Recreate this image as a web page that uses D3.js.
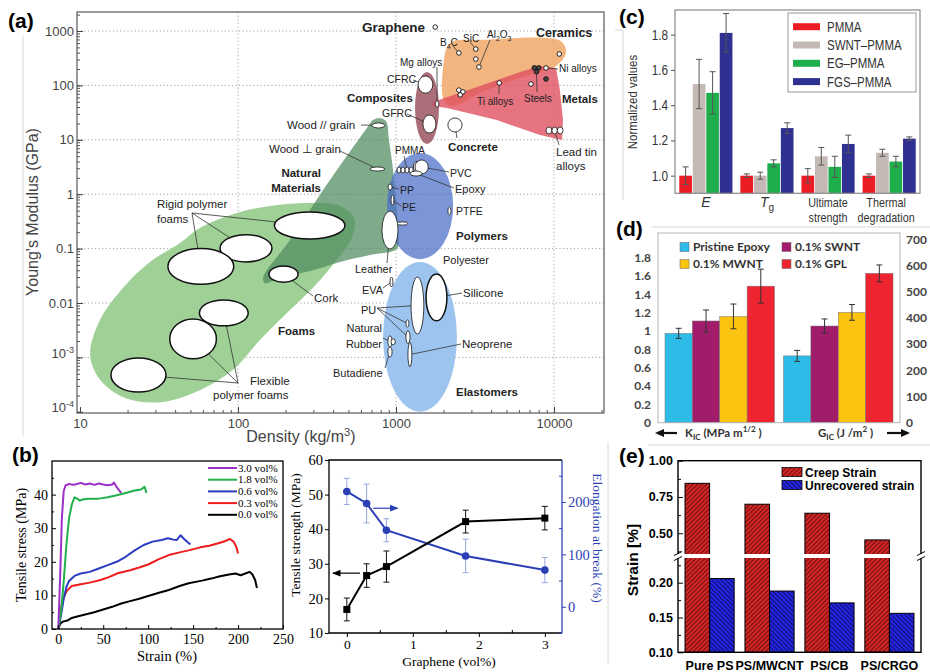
<!DOCTYPE html>
<html>
<head>
<meta charset="utf-8">
<script src="https://cdn.jsdelivr.net/npm/d3@7"></script>
<style>
	body { margin: 0; background: #fff; }
</style>
</head>
<body>
<div id="chart"></div>
<script>
// ---------------- (a) Ashby map, values in [density kg/m3, modulus GPa] ----------------
const foamsEnvelope = [[13.4, 0.0049], [19.3, 0.021], [27.7, 0.057], [42.9, 0.127], [57.4, 0.24], [92.8, 0.43], [160, 0.61], [286, 0.69], [442, 0.61], [542, 0.37], [527, 0.16], [411, 0.057], [298, 0.019], [198, 0.006], [138, 0.0021], [92.8, 0.00059], [57.4, 0.00025], [32.1, 0.00015], [19.3, 0.00018], [13.4, 0.00039], [11.6, 0.0011]];
const naturalEnvelope = [[715, 23], [792, 25], [865, 22], [903, 9.9], [958, 2.8], [1000, 0.78], [1030, 0.22], [1015, 0.1], [684, 0.076], [442, 0.057], [298, 0.04], [185, 0.029], [148, 0.023], [144, 0.029], [213, 0.144], [382, 1.82], [655, 16.5]];
const ceramicsEnvelope = [[2200, 600], [3400, 684], [9040, 743], [11250, 628], [11900, 394], [10300, 228], [6100, 137], [3400, 72.5], [2260, 41.8], [2010, 54], [1980, 192]];
const metalsEnvelope = [[1710, 49.6], [3400, 97.5], [6100, 176], [8150, 228], [10300, 209], [10900, 82], [11400, 23], [11250, 9.9], [8150, 12.2], [4350, 23], [2100, 38.5], [1710, 41.8]];
// family ranges [density lo, density hi, modulus lo, modulus hi]
const polymersRange = [877, 2300, 0.064, 5.7];
const elastomersRange = [828, 2430, 0.0001, 0.057];
const compositesRange = [1320, 1870, 8.4, 176];
// material bubbles [name, density lo, density hi, modulus lo, modulus hi]
const materialBubbles = [
	["Rigid foam 1", 170, 475, 0.15, 0.47], ["Rigid foam 2", 77, 164, 0.057, 0.18], ["Rigid foam 3", 36, 94, 0.022, 0.1],
	["Cork", 157, 240, 0.024, 0.048], ["Flexible foam 1", 57, 116, 0.0038, 0.0114], ["Flexible foam 2", 37, 73, 0.00094, 0.0051],
	["Flexible foam 3", 15.7, 35, 0.00023, 0.00098], ["Wood // grain", 705, 850, 16.5, 20.4], ["Wood ⊥ grain", 684, 850, 2.67, 3.16],
	["Leather", 815, 1030, 0.098, 0.49], ["PMMA 1", 1015, 1075, 2.45, 3.16], ["PMMA 2", 1075, 1140, 2.45, 3.16],
	["PMMA 3", 1140, 1210, 2.45, 3.16], ["PMMA 4", 1210, 1285, 2.45, 3.16], ["PVC 2", 1290, 1420, 2.5, 4.0],
	["PVC", 1320, 1600, 2.35, 4.26], ["Epoxy", 1230, 1460, 2.16, 2.67], ["PP", 890, 945, 1.19, 1.54], ["PE", 930, 970, 0.63, 0.97],
	["PTFE", 2130, 2230, 0.415, 0.58], ["Polyester", 1015, 1190, 0.27, 0.31], ["EVA", 916, 957, 0.0197, 0.03],
	["PU", 1245, 1500, 0.0027, 0.03], ["Silicone", 1550, 2100, 0.0047, 0.034], ["PU 2", 1156, 1208, 0.0036, 0.0049],
	["PU 3", 1156, 1227, 0.0018, 0.0031], ["Neoprene", 1190, 1260, 0.00067, 0.0019], ["Natural rubber", 889, 944, 0.00155, 0.0025],
	["Natural rubber 2", 930, 990, 0.0017, 0.0022], ["Butadiene", 889, 944, 0.00102, 0.00155], ["CFRC", 1380, 1710, 72, 149],
	["GFRC", 1480, 1790, 13.3, 28.6], ["Mg alloys", 1770, 1870, 40, 52], ["Concrete", 2130, 2620, 13.9, 25.2],
	["Lead tin 1", 8900, 9700, 12.8, 17.2], ["Lead tin 2", 9700, 10500, 12.8, 17.2], ["Lead tin 3", 10500, 11400, 12.8, 17.2]
];
// single materials [name, density, modulus]
const materialPoints = [
	["Graphene", 1770, 1180], ["B4C", 2500, 395], ["SiC", 3200, 465], ["SiC 2", 3200, 305], ["Al2O3", 3350, 218],
	["Ceramic 1", 10800, 378], ["Ni alloys", 8900, 209], ["Steels 1", 7500, 210], ["Steels 2", 8000, 210], ["Steels 3", 7750, 178],
	["Metal 1", 8900, 131], ["Metal 2", 7150, 106], ["Ti alloys", 4500, 111], ["Al 1", 2500, 82], ["Al 2", 2650, 76], ["Al 3", 2550, 67]
];

// ---------------- (b) stress-strain curves [strain %, stress MPa] ----------------
const curveNames = ["3.0 vol%", "1.8 vol%", "0.6 vol%", "0.3 vol%", "0.0 vol%"];
const curve30 = [[0, 0], [2, 15], [4, 33], [6, 41], [8, 42.7], [12, 43.2], [16, 42.9], [20, 43.1], [25, 43.5], [30, 43], [35, 43.3], [40, 42.9], [45, 43.3], [50, 43], [55, 42.8], [60, 43], [62, 43.6], [65, 42.2], [68, 41.2], [70, 40.5]];
const curve18 = [[0, 0], [3, 5], [6, 14], [9, 25], [12, 33], [15, 37], [18, 39.2], [21, 38.8], [24, 38.2], [28, 38.6], [35, 38.8], [45, 38.8], [55, 39.2], [65, 39.8], [75, 40.5], [85, 41.2], [92, 41.5], [96, 42.3], [97, 41.5], [98, 40.5]];
const curve06 = [[0, 0], [3, 4], [6, 9], [9, 12.5], [12, 14.3], [18, 15.8], [25, 16.5], [35, 17], [45, 18], [55, 19], [65, 20], [75, 21.5], [85, 23.4], [95, 25], [105, 26], [115, 26.5], [122, 27], [128, 26.6], [132, 26.5], [136, 27.9], [140, 26.8], [144, 25.8], [147, 25.2]];
const curve03 = [[0, 0], [2, 4], [4, 7.5], [7, 10], [10, 11.5], [15, 12.8], [25, 13.3], [35, 13.8], [47, 14.6], [57, 15.5], [66, 16.6], [80, 17.5], [90, 18.3], [100, 19.2], [112, 20.8], [123, 22], [135, 22.8], [145, 23.4], [158, 24.3], [168, 24.8], [178, 25.5], [186, 26.2], [191, 26.8], [195, 26], [198, 24.5], [200, 22.5]];
const curve00 = [[0, 0], [2, 1.5], [5, 2.2], [10, 2.5], [15, 3.3], [21, 3.7], [30, 4.3], [40, 5], [50, 5.8], [60, 6.6], [70, 7.6], [80, 8.3], [90, 9], [100, 9.8], [112, 10.8], [123, 11.6], [135, 12.8], [145, 13.6], [160, 14.4], [170, 15], [180, 15.7], [190, 16.2], [197, 16.5], [203, 16], [208, 16.5], [213, 17], [216, 16.2], [219, 14.6], [221, 12.2]];
const grapheneVol = [0, 0.3, 0.6, 1.8, 3];
const strengthMPa = [16.8, 26.6, 29.2, 42.2, 43.2];
const strengthErr = [3.3, 3.4, 4.5, 3.3, 3.4];
const elongationPct = [220, 197, 146, 97, 70];
const elongationErr = [25, 37, 22, 32, 24];

// ---------------- (c) normalized properties ----------------
const propertyGroups = ["E", "Tg", "Ultimate strength", "Thermal degradation"];
const pmmaSeries = ["PMMA", "SWNT–PMMA", "EG–PMMA", "FGS–PMMA"];
const normalizedValues = [[1.0, 1.52, 1.47, 1.81], [1.0, 1.0, 1.07, 1.27], [1.0, 1.11, 1.05, 1.18], [1.0, 1.13, 1.08, 1.21]];
const normalizedErr = [[0.05, 0.14, 0.12, 0.11], [0.01, 0.02, 0.02, 0.03], [0.04, 0.05, 0.06, 0.05], [0.01, 0.02, 0.03, 0.01]];

// ---------------- (d) fracture toughness ----------------
const toughnessGroups = ["KIC", "GIC"];
const fillerSeries = ["Pristine Epoxy", "0.1% SWNT", "0.1% MWNT", "0.1% GPL"];
const kicValues = [0.975, 1.11, 1.16, 1.49];
const kicErr = [0.055, 0.12, 0.135, 0.185];
const gicValues = [255, 369, 421, 570];
const gicErr = [21, 27, 30, 32];

// ---------------- (e) creep ----------------
const creepSamples = ["Pure PS", "PS/MWCNT", "PS/CB", "PS/CRGO"];
const creepStrain = [0.844, 0.7, 0.638, 0.454];
const unrecoveredStrain = [0.206, 0.188, 0.171, 0.156];

// ============================================================
const svg = d3.select("#chart").append("svg").attr("width", 930).attr("height", 672)
	.style("font-family", "'Liberation Sans', Arial, sans-serif");
svg.append("rect").attr("width", 930).attr("height", 672).attr("fill", "#fff");
const defs = svg.append("defs");

// text with [_sub] and [^sup] parts
function rich(text, str, size) {
	let shift = 0;
	str.split(/(\[[_^][^\]]*\])/).filter(s => s).forEach(s => {
		let target = 0, content = s, small = false;
		if (s[0] === "[") {
			target = s[1] === "_" ? size * 0.3 : -size * 0.4;
			content = s.slice(2, -1);
			small = true;
		}
		const t = text.append("tspan").attr("dy", target - shift).text(content);
		if (small) t.attr("font-size", size * 0.7);
		shift = target;
	});
}

// squeeze a text horizontally (condensed look)
function condense(sel, k) {
	sel.each(function () {
		const w = this.getComputedTextLength();
		d3.select(this).attr("textLength", w * k).attr("lengthAdjust", "spacingAndGlyphs");
	});
}

function panelLetter(txt, x, y) {
	svg.append("text").attr("x", x).attr("y", y).attr("font-size", 21).attr("font-weight", "bold")
		.attr("font-family", "'Liberation Sans', Arial, sans-serif").text(txt);
}

// faint borders of the source figure
svg.append("path").attr("d", "M23,36V436M608,442V664M615,30H623V200M652,227H930M648,445H930")
	.attr("stroke", "#d8d8d8").attr("fill", "none");

// ---------------- panel (a) ----------------
function panelA() {
	const frame = { left: 77, right: 604, top: 12, bottom: 413 };
	const x = d3.scaleLog().domain([10, 10000]).range([80, 554]);
	const y = d3.scaleLog().domain([1e-4, 1000]).range([411.8, 31]);
	const g = svg.append("g");

	// dotted decade grid
	g.selectAll(null).data([100, 1000, 10000]).join("line")
		.attr("x1", d => x(d)).attr("x2", d => x(d)).attr("y1", frame.top).attr("y2", frame.bottom)
		.attr("stroke", "#9a9a9a").attr("stroke-width", 0.9).attr("stroke-dasharray", "1.2,2.4");
	g.selectAll(null).data([1e-3, 0.01, 0.1, 1, 10, 100, 1000]).join("line")
		.attr("x1", frame.left).attr("x2", frame.right).attr("y1", d => y(d)).attr("y2", d => y(d))
		.attr("stroke", "#9a9a9a").attr("stroke-width", 0.9).attr("stroke-dasharray", "1.2,2.4");

	// property envelopes
	const smooth = d3.line().x(d => x(d[0])).y(d => y(d[1])).curve(d3.curveCatmullRomClosed.alpha(0.5));
	const sharp = d3.line().x(d => x(d[0])).y(d => y(d[1])).curve(d3.curveLinearClosed);
	const rangeEllipse = function (r, fill, opacity) {
		const x0 = x(r[0]), x1 = x(r[1]), y0 = y(r[3]), y1 = y(r[2]);
		g.append("ellipse").attr("cx", (x0 + x1) / 2).attr("cy", (y0 + y1) / 2)
			.attr("rx", (x1 - x0) / 2).attr("ry", (y1 - y0) / 2).attr("fill", fill).attr("fill-opacity", opacity);
	};
	g.append("path").attr("d", smooth(foamsEnvelope)).attr("fill", "#9fd197");
	g.append("path").attr("d", smooth(naturalEnvelope)).attr("fill", "#4e8a5e").attr("fill-opacity", 0.72);
	rangeEllipse(compositesRange, "#954a56", 0.8);
	g.append("path").attr("d", smooth(ceramicsEnvelope)).attr("fill", "#f0a868").attr("fill-opacity", 0.85);
	g.append("path").attr("d", sharp(metalsEnvelope)).attr("fill", "#e05060").attr("fill-opacity", 0.8);
	rangeEllipse(polymersRange, "#4a6cc8", 0.72);
	rangeEllipse(elastomersRange, "#9cc4ee", 1);

	// centres of bubbles and points
	const centre = {};
	materialBubbles.forEach(b => (centre[b[0]] = [Math.sqrt(b[1] * b[2]), Math.sqrt(b[3] * b[4])]));
	materialPoints.forEach(p => (centre[p[0]] = [p[1], p[2]]));

	// leader lines: [label end x, label end y, target]
	const leaders = [[453, 46, "B4C"], [470, 42, "SiC"], [490, 40, "Al2O3"], [437, 67, "Mg alloys"], [413, 80, "CFRC"],
		[407, 114, "GFRC"], [558, 69, "Ni alloys"], [537, 92, "Steels 3"], [499, 94, "Ti alloys"], [559, 145, "Lead tin 2"],
		[361, 125, "Wood // grain"], [340, 151, "Wood ⊥ grain"], [404, 156, "PMMA 3"], [449, 172, "PVC"], [454, 188, "Epoxy"],
		[399, 189, "PP"], [401, 206, "PE"], [387, 263, "Leather"], [383, 288, "EVA"], [313, 296, "Cork"], [462, 293, "Silicone"],
		[377, 308, "PU"], [377, 308, "PU 2"], [377, 308, "PU 3"], [383, 338, "Natural rubber"], [461, 344, "Neoprene"],
		[385, 368, "Butadiene"], [192, 213, "Rigid foam 1"], [192, 213, "Rigid foam 2"], [192, 213, "Rigid foam 3"],
		[238, 383, "Flexible foam 1"], [238, 383, "Flexible foam 2"], [238, 383, "Flexible foam 3"], [457, 138, "Concrete"]];
	g.selectAll(null).data(leaders).join("line")
		.attr("x1", d => d[0]).attr("y1", d => d[1])
		.attr("x2", d => x(centre[d[2]][0])).attr("y2", d => y(centre[d[2]][1]))
		.attr("stroke", "#333").attr("stroke-width", 0.8);

	g.selectAll(null).data(materialBubbles).join("ellipse")
		.attr("cx", d => (x(d[1]) + x(d[2])) / 2).attr("cy", d => (y(d[3]) + y(d[4])) / 2)
		.attr("rx", d => (x(d[2]) - x(d[1])) / 2).attr("ry", d => (y(d[3]) - y(d[4])) / 2)
		.attr("fill", "#fff").attr("stroke", "#111")
		.attr("stroke-width", d => (x(d[2]) - x(d[1]) > 20 ? 1.5 : 0.8));
	g.selectAll(null).data(materialPoints).join("circle")
		.attr("cx", d => x(d[1])).attr("cy", d => y(d[2])).attr("r", 2.3)
		.attr("fill", d => (d[0].startsWith("Steels") || d[0] === "Metal 1" ? "#444" : "#fff"))
		.attr("stroke", "#111").attr("stroke-width", 0.9);

	// labels [text, x, y, anchor, bold, size]
	const labels = [
		["Graphene", 362, 32, "start", 1, 13.5], ["Ceramics", 536, 37, "start", 1, 12.5], ["Metals", 562, 103, "start", 1, 11.5],
		["Composites", 347, 102, "start", 1, 11.5], ["Concrete", 448, 151, "start", 1, 11.5], ["Natural", 321, 177, "end", 1, 11.5],
		["Materials", 321, 192, "end", 1, 11.5], ["Polymers", 456, 240, "start", 1, 11.5], ["Foams", 278, 335, "start", 1, 11.5],
		["Elastomers", 456, 396, "start", 1, 11.5],
		["B[_4]C", 440, 46, "start", 0, 10], ["SiC", 463, 42, "start", 0, 10], ["Al[_2]O[_3]", 487, 38, "start", 0, 10],
		["Mg alloys", 400, 66, "start", 0, 10], ["CFRC", 387, 83, "start", 0, 10.5], ["GFRC", 382, 117, "start", 0, 10.5],
		["Ni alloys", 559, 72, "start", 0, 10], ["Steels", 524, 102, "start", 0, 10], ["Ti alloys", 477, 105, "start", 0, 10],
		["Lead tin", 556, 156, "start", 0, 11.5], ["alloys", 556, 170, "start", 0, 11.5], ["Wood // grain", 287, 129, "start", 0, 11.5],
		["Wood ⊥ grain", 269, 153, "start", 0, 11.5], ["PMMA", 395, 154, "start", 0, 10], ["PVC", 450, 177, "start", 0, 10.5],
		["Epoxy", 455, 193, "start", 0, 11], ["PP", 400, 194, "start", 0, 10.5], ["PE", 402, 211, "start", 0, 10.5],
		["PTFE", 456, 215, "start", 0, 10.5], ["Leather", 355, 273, "start", 0, 11], ["Polyester", 443, 264, "start", 0, 11],
		["EVA", 362, 294, "start", 0, 11], ["Cork", 314, 302, "start", 0, 11.5], ["Silicone", 463, 297, "start", 0, 11.5],
		["PU", 361, 314, "start", 0, 11], ["Natural", 382, 332, "end", 0, 11], ["Rubber", 382, 348, "end", 0, 11],
		["Neoprene", 462, 348, "start", 0, 11.5], ["Butadiene", 333, 377, "start", 0, 11],
		["Rigid polymer", 157, 208, "start", 0, 11.5], ["foams", 157, 223, "start", 0, 11.5],
		["Flexible", 250, 385, "start", 0, 11.5], ["polymer foams", 213, 399, "start", 0, 11.5]
	];
	labels.forEach(l => {
		const t = g.append("text").attr("x", l[1]).attr("y", l[2]).attr("text-anchor", l[3])
			.attr("font-size", l[5]).attr("font-weight", l[4] ? "bold" : "normal").attr("fill", "#222");
		rich(t, l[0], l[5]);
	});

	// frame and inward ticks
	g.append("rect").attr("x", frame.left).attr("y", frame.top).attr("width", frame.right - frame.left)
		.attr("height", frame.bottom - frame.top).attr("fill", "none").attr("stroke", "#666").attr("stroke-width", 1.3);
	const xFull = x.copy().domain([x.invert(frame.left), x.invert(frame.right)]).range([frame.left, frame.right]);
	const yFull = y.copy().domain([y.invert(frame.bottom), y.invert(frame.top)]).range([frame.bottom, frame.top]);
	g.append("g").attr("transform", `translate(0,${frame.bottom})`).attr("color", "#555")
		.call(d3.axisBottom(x).tickValues(xFull.ticks()).tickSize(-3).tickFormat(""))
		.call(a => a.select(".domain").remove());
	g.append("g").attr("transform", `translate(0,${frame.bottom})`).attr("color", "#444")
		.call(d3.axisBottom(x).tickValues([10, 100, 1000, 10000]).tickSize(-6).tickPadding(6).tickFormat(d3.format("d")))
		.call(a => a.select(".domain").remove())
		.call(a => a.selectAll("text").attr("font-size", 13).attr("font-family", "'Liberation Sans', Arial, sans-serif"));
	g.append("g").attr("transform", `translate(${frame.left},0)`).attr("color", "#555")
		.call(d3.axisLeft(y).tickValues(yFull.ticks()).tickSize(-3).tickFormat(""))
		.call(a => a.select(".domain").remove());
	g.append("g").attr("transform", `translate(${frame.left},0)`).attr("color", "#444")
		.call(d3.axisLeft(y).tickValues([1e-4, 1e-3, 0.01, 0.1, 1, 10, 100, 1000]).tickSize(-6).tickPadding(3)
			.tickFormat(d => (d >= 0.01 ? d3.format("~g")(d) : "")))
		.call(a => a.select(".domain").remove())
		.call(a => a.selectAll("text").attr("font-size", 13).attr("font-family", "'Liberation Sans', Arial, sans-serif")
			.filter(d => d < 0.01).each(function (d) { rich(d3.select(this), "10[^" + Math.round(Math.log10(d)) + "]", 13); }));

	g.append("text").attr("transform", "translate(38,212) rotate(-90)").attr("text-anchor", "middle")
		.attr("font-size", 16).attr("fill", "#444").text("Young's Modulus (GPa)");
	const dt = g.append("text").attr("x", 301).attr("y", 442).attr("text-anchor", "middle").attr("font-size", 16).attr("fill", "#444");
	rich(dt, "Density (kg/m[^3])", 16);
	panelLetter("(a)", 8, 28);
}

// ---------------- panel (b) left ----------------
function panelB1() {
	const serif = "'Liberation Serif', 'Times New Roman', serif";
	const x = d3.scaleLinear().domain([-7, 250]).range([52, 283]);
	const y = d3.scaleLinear().domain([0, 50]).range([629, 461]);
	const g = svg.append("g").attr("font-family", serif);
	const colors = ["#9b30c8", "#22b04a", "#2a3cc0", "#ee1c1c", "#000"];
	const curves = [curve30, curve18, curve06, curve03, curve00];
	const line = d3.line().x(d => x(d[0])).y(d => y(d[1]));
	curves.slice().reverse().forEach((c, i) => {
		g.append("path").datum(c).attr("d", line).attr("fill", "none")
			.attr("stroke", colors[4 - i]).attr("stroke-width", 2).attr("stroke-linejoin", "round");
	});
	g.append("rect").attr("x", 52).attr("y", 461).attr("width", 231).attr("height", 168)
		.attr("fill", "none").attr("stroke", "#000").attr("stroke-width", 1.3);
	g.append("g").attr("transform", "translate(0,629)")
		.call(d3.axisBottom(x).tickValues([0, 50, 100, 150, 200, 250]).tickSize(-4).tickPadding(5))
		.call(a => a.select(".domain").remove())
		.call(a => a.selectAll("text").attr("font-size", 14).attr("font-family", serif));
	g.append("g").attr("transform", "translate(0,629)")
		.call(d3.axisBottom(x).tickValues([25, 75, 125, 175, 225]).tickSize(-2).tickFormat(""))
		.call(a => a.select(".domain").remove());
	g.append("g").attr("transform", "translate(52,0)")
		.call(d3.axisLeft(y).tickValues([0, 10, 20, 30, 40]).tickSize(-4).tickPadding(4))
		.call(a => a.select(".domain").remove())
		.call(a => a.selectAll("text").attr("font-size", 14).attr("font-family", serif));
	g.append("g").attr("transform", "translate(52,0)")
		.call(d3.axisLeft(y).tickValues([5, 15, 25, 35, 45]).tickSize(-2).tickFormat(""))
		.call(a => a.select(".domain").remove());
	// legend
	curveNames.forEach((n, i) => {
		const ly = 468 + i * 11.7;
		g.append("line").attr("x1", 208).attr("x2", 237).attr("y1", ly).attr("y2", ly).attr("stroke", colors[i]).attr("stroke-width", 2);
		g.append("text").attr("x", 238).attr("y", ly + 3.5).attr("font-size", 11).text(n);
	});
	g.append("text").attr("transform", "translate(26,545) rotate(-90)").attr("text-anchor", "middle").attr("font-size", 14).text("Tensile stress (MPa)");
	g.append("text").attr("x", 167).attr("y", 661).attr("text-anchor", "middle").attr("font-size", 14.5).text("Strain (%)");
	panelLetter("(b)", 12, 462);
}

// ---------------- panel (b) right ----------------
function panelB2() {
	const serif = "'Liberation Serif', 'Times New Roman', serif";
	const blue = "#2b3fb5";
	const x = d3.scaleLinear().domain([-0.27, 3.26]).range([329, 562]);
	const yL = d3.scaleLinear().domain([10, 60]).range([633, 460]);
	const yR = d3.scaleLinear().domain([-50, 280]).range([633, 460]);
	const g = svg.append("g").attr("font-family", serif);

	defs.append("marker").attr("id", "arrowK").attr("viewBox", "0 0 10 10").attr("refX", 9).attr("refY", 5)
		.attr("markerWidth", 7).attr("markerHeight", 7).attr("orient", "auto")
		.append("path").attr("d", "M0,1L10,5L0,9z").attr("fill", "#000");
	defs.append("marker").attr("id", "arrowB").attr("viewBox", "0 0 10 10").attr("refX", 9).attr("refY", 5)
		.attr("markerWidth", 7).attr("markerHeight", 7).attr("orient", "auto")
		.append("path").attr("d", "M0,1L10,5L0,9z").attr("fill", blue);

	// error bars
	const errs = function (vals, err, scale, color) {
		vals.forEach((v, i) => {
			const cx = x(grapheneVol[i]);
			g.append("line").attr("x1", cx).attr("x2", cx).attr("y1", scale(v - err[i])).attr("y2", scale(v + err[i])).attr("stroke", color);
			[v - err[i], v + err[i]].forEach(e => g.append("line").attr("x1", cx - 3).attr("x2", cx + 3)
				.attr("y1", scale(e)).attr("y2", scale(e)).attr("stroke", color));
		});
	};
	errs(elongationPct, elongationErr, yR, "#98a6e0");
	errs(strengthMPa, strengthErr, yL, "#111");
	const lineL = d3.line().x((d, i) => x(grapheneVol[i])).y(d => yL(d));
	const lineR = d3.line().x((d, i) => x(grapheneVol[i])).y(d => yR(d));
	g.append("path").datum(elongationPct).attr("d", lineR).attr("fill", "none").attr("stroke", blue).attr("stroke-width", 2);
	g.append("path").datum(strengthMPa).attr("d", lineL).attr("fill", "none").attr("stroke", "#000").attr("stroke-width", 2);
	g.selectAll(null).data(elongationPct).join("circle")
		.attr("cx", (d, i) => x(grapheneVol[i])).attr("cy", d => yR(d)).attr("r", 3.8).attr("fill", blue);
	g.selectAll(null).data(strengthMPa).join("rect")
		.attr("x", (d, i) => x(grapheneVol[i]) - 3.5).attr("y", d => yL(d) - 3.5).attr("width", 7).attr("height", 7).attr("fill", "#000");

	// arrows pointing to each axis
	g.append("line").attr("x1", x(0.2)).attr("x2", x(-0.21)).attr("y1", yL(27.3)).attr("y2", yL(27.3))
		.attr("stroke", "#000").attr("stroke-width", 1.2).attr("marker-end", "url(#arrowK)");
	g.append("line").attr("x1", x(0.4)).attr("x2", x(0.77)).attr("y1", yR(188)).attr("y2", yR(188))
		.attr("stroke", blue).attr("stroke-width", 1.2).attr("marker-end", "url(#arrowB)");

	// frame and axes
	g.append("path").attr("d", `M562,460H329V633H562`).attr("fill", "none").attr("stroke", "#000").attr("stroke-width", 1.3);
	g.append("line").attr("x1", 562).attr("x2", 562).attr("y1", 460).attr("y2", 633).attr("stroke", blue).attr("stroke-width", 1.3);
	g.append("g").attr("transform", "translate(0,633)")
		.call(d3.axisBottom(x).tickValues([0, 1, 2, 3]).tickSize(4).tickPadding(2).tickFormat(d3.format("d")))
		.call(a => a.select(".domain").remove())
		.call(a => a.selectAll("text").attr("font-size", 13.5).attr("font-family", serif));
	g.append("g").attr("transform", "translate(0,633)")
		.call(d3.axisBottom(x).tickValues([0.5, 1.5, 2.5]).tickSize(-3).tickFormat(""))
		.call(a => a.select(".domain").remove());
	g.append("g").attr("transform", "translate(329,0)")
		.call(d3.axisLeft(yL).tickValues([10, 20, 30, 40, 50, 60]).tickSize(4).tickPadding(2))
		.call(a => a.select(".domain").remove())
		.call(a => a.selectAll("text").attr("font-size", 14.5).attr("font-family", serif));
	g.append("g").attr("transform", "translate(562,0)").attr("color", blue)
		.call(d3.axisRight(yR).tickValues([0, 100, 200]).tickSize(4).tickPadding(2))
		.call(a => a.select(".domain").remove())
		.call(a => a.selectAll("text").attr("font-size", 14.5).attr("font-family", serif));
	g.append("g").attr("transform", "translate(562,0)").attr("color", blue)
		.call(d3.axisRight(yR).tickValues([-50, 50, 150, 250]).tickSize(-3).tickFormat(""))
		.call(a => a.select(".domain").remove());

	g.append("text").attr("transform", "translate(300,535) rotate(-90)").attr("text-anchor", "middle").attr("font-size", 13.5).text("Tensile strength (MPa)");
	g.append("text").attr("transform", "translate(593,538) rotate(90)").attr("text-anchor", "middle").attr("font-size", 13.5)
		.attr("fill", blue).text("Elongation at break (%)");
	g.append("text").attr("x", 449).attr("y", 666).attr("text-anchor", "middle").attr("font-size", 13.5).text("Graphene (vol%)");
}

// ---------------- panel (c) ----------------
function panelC() {
	const font = "'Liberation Sans', Arial, sans-serif";
	const colors = ["#ec1c24", "#c5b9b6", "#1fae4c", "#2e3192"];
	const x0 = d3.scaleBand().domain(propertyGroups).range([675, 920]).paddingInner(0.13).paddingOuter(0.07);
	const x1 = d3.scaleBand().domain(pmmaSeries).range([0, x0.bandwidth()]).paddingInner(0.06);
	const y = d3.scaleLinear().domain([0.9, 1.94]).range([193.3, 10]);
	const g = svg.append("g").attr("font-family", font);

	propertyGroups.forEach((grp, gi) => {
		pmmaSeries.forEach((s, si) => {
			const v = normalizedValues[gi][si], e = normalizedErr[gi][si];
			const bx = x0(grp) + x1(s), cx = bx + x1.bandwidth() / 2;
			g.append("rect").attr("x", bx).attr("y", y(v)).attr("width", x1.bandwidth()).attr("height", y(0.9) - y(v)).attr("fill", colors[si]);
			g.append("line").attr("x1", cx).attr("x2", cx).attr("y1", y(v - e)).attr("y2", y(v + e)).attr("stroke", "#555");
			[v - e, v + e].forEach(t => g.append("line").attr("x1", cx - 3).attr("x2", cx + 3).attr("y1", y(t)).attr("y2", y(t)).attr("stroke", "#555"));
		});
	});
	g.append("rect").attr("x", 675).attr("y", 10).attr("width", 245).attr("height", 183.3).attr("fill", "none").attr("stroke", "#8a8a8a").attr("stroke-width", 1.2);
	g.append("g").attr("transform", "translate(675,0)").attr("color", "#555")
		.call(d3.axisLeft(y).tickValues([1.0, 1.2, 1.4, 1.6, 1.8]).tickSize(4).tickPadding(3).tickFormat(d3.format(".1f")))
		.call(a => a.select(".domain").remove())
		.call(a => a.selectAll("text").attr("font-size", 14).attr("font-family", font).attr("fill", "#333").call(condense, 0.84));

	// legend
	g.append("rect").attr("x", 788).attr("y", 13).attr("width", 128).attr("height", 79).attr("fill", "#fff").attr("stroke", "#999");
	pmmaSeries.forEach((s, i) => {
		const ly = 26.7 + i * 18.3;
		g.append("rect").attr("x", 793).attr("y", ly - 3.5).attr("width", 27).attr("height", 7).attr("fill", colors[i]);
		g.append("text").attr("x", 827).attr("y", ly + 5).attr("font-size", 14).attr("fill", "#333").text(s).call(condense, 0.82);
	});

	// category labels
	const cx = d => x0(d) + x0.bandwidth() / 2;
	g.append("text").attr("x", cx("E")).attr("y", 207).attr("text-anchor", "middle").attr("font-size", 14).attr("font-style", "italic").attr("fill", "#333").text("E");
	const tg = g.append("text").attr("x", cx("Tg")).attr("y", 207).attr("text-anchor", "middle").attr("font-size", 14).attr("fill", "#333");
	tg.append("tspan").attr("font-style", "italic").text("T");
	tg.append("tspan").attr("font-size", 10).attr("dy", 4).text("g");
	[["Ultimate", "strength"], ["Thermal", "degradation"]].forEach((pair, i) => {
		const grp = propertyGroups[2 + i];
		pair.forEach((w, j) => g.append("text").attr("x", cx(grp) - i * 3).attr("y", 207 + j * 15).attr("text-anchor", "middle")
			.attr("font-size", 13.5).attr("fill", "#333").text(w).call(condense, 0.8));
	});
	g.append("text").attr("transform", "translate(637,102) rotate(-90)").attr("text-anchor", "middle").attr("font-size", 13.5)
		.attr("fill", "#333").text("Normalized values").call(condense, 0.85);
	panelLetter("(c)", 619, 24);
}

// ---------------- panel (d) ----------------
function panelD() {
	const font = "Lato, 'Open Sans', sans-serif";
	const colors = ["#2dbbe8", "#a11d6b", "#fcc410", "#ee2431"];
	const x0 = d3.scaleBand().domain(toughnessGroups).range([658, 900]).paddingInner(0.076).paddingOuter(0.059);
	const x1 = d3.scaleBand().domain(fillerSeries).range([0, x0.bandwidth()]);
	const yL = d3.scaleLinear().domain([0, 2.07]).range([422.7, 233]);
	const yR = d3.scaleLinear().domain([0, 724]).range([422.7, 233]);
	const g = svg.append("g").attr("font-family", font);

	const groups = [[kicValues, kicErr, yL], [gicValues, gicErr, yR]];
	toughnessGroups.forEach((grp, gi) => {
		const [vals, errs, sc] = groups[gi];
		fillerSeries.forEach((s, si) => {
			const v = vals[si], e = errs[si];
			const bx = x0(grp) + x1(s), cx = bx + x1.bandwidth() / 2;
			g.append("rect").attr("x", bx).attr("y", sc(v)).attr("width", x1.bandwidth()).attr("height", sc(0) - sc(v))
				.attr("fill", colors[si]).attr("stroke", "#777").attr("stroke-width", 0.5);
			g.append("line").attr("x1", cx).attr("x2", cx).attr("y1", sc(v - e)).attr("y2", sc(v + e)).attr("stroke", "#333");
			[v - e, v + e].forEach(t => g.append("line").attr("x1", cx - 3).attr("x2", cx + 3).attr("y1", sc(t)).attr("y2", sc(t)).attr("stroke", "#333"));
		});
	});
	g.append("rect").attr("x", 658).attr("y", 233).attr("width", 242).attr("height", 189.7).attr("fill", "none").attr("stroke", "#b5b5b5");
	g.append("g").attr("transform", "translate(658,0)")
		.call(d3.axisLeft(yL).tickValues(d3.range(0, 1.81, 0.2)).tickSize(0).tickPadding(7).tickFormat(d3.format("~g")))
		.call(a => a.select(".domain").remove())
		.call(a => a.selectAll("text").attr("font-size", 12).attr("font-weight", "bold").attr("font-family", font).attr("fill", "#444"));
	g.append("g").attr("transform", "translate(900,0)")
		.call(d3.axisRight(yR).tickValues(d3.range(0, 701, 100)).tickSize(0).tickPadding(6))
		.call(a => a.select(".domain").remove())
		.call(a => a.selectAll("text").attr("font-size", 12).attr("font-weight", "bold").attr("font-family", font).attr("fill", "#444"));

	// legend, two columns
	fillerSeries.forEach((s, i) => {
		const lx = i % 2 === 0 ? 680 : 782, ly = i < 2 ? 247 : 264;
		g.append("rect").attr("x", lx).attr("y", ly - 4.5).attr("width", 9).attr("height", 9).attr("fill", colors[i]).attr("stroke", "#666").attr("stroke-width", 0.5);
		g.append("text").attr("x", lx + 13).attr("y", ly + 4).attr("font-size", 12).attr("font-weight", "bold").attr("fill", "#333").text(s);
	});
	// axis captions with arrows
	const arrow = (xa, xb) => {
		g.append("line").attr("x1", xa).attr("x2", xb).attr("y1", 433).attr("y2", 433).attr("stroke", "#111").attr("stroke-width", 2.2);
		const dir = Math.sign(xb - xa);
		g.append("path").attr("d", `M${xb + dir * 3},433L${xb - dir * 6},429L${xb - dir * 6},437Z`).attr("fill", "#111");
	};
	arrow(677, 658);
	arrow(887, 907);
	const k = g.append("text").attr("x", 685).attr("y", 437).attr("font-size", 11.5).attr("font-weight", "bold").attr("fill", "#333");
	rich(k, "K[_IC] (MPa m[^1/2] )", 11.5);
	const gg = g.append("text").attr("x", 818).attr("y", 437).attr("font-size", 11.5).attr("font-weight", "bold").attr("fill", "#333");
	rich(gg, "G[_IC] (J /m[^2] )", 11.5);
	panelLetter("(d)", 616, 236);
}

// ---------------- panel (e) ----------------
function panelE() {
	const x0 = d3.scaleBand().domain(creepSamples).range([678, 921]).paddingInner(0.18).paddingOuter(0.117);
	const x1 = d3.scaleBand().domain(["creep", "unrecovered"]).range([0, x0.bandwidth()]);
	const yHi = d3.scaleLinear().domain([0.357, 1.0]).range([554, 460.7]);
	const yLo = d3.scaleLinear().domain([0.1, 0.2355]).range([652.3, 558]);
	const g = svg.append("g").attr("font-weight", "bold");
	const hatch = function (id, fill, stroke, angle) {
		const p = defs.append("pattern").attr("id", id).attr("patternUnits", "userSpaceOnUse")
			.attr("width", 3.2).attr("height", 3.2).attr("patternTransform", `rotate(${angle})`);
		p.append("rect").attr("width", 3.2).attr("height", 3.2).attr("fill", fill);
		p.append("line").attr("x1", 0.5).attr("x2", 0.5).attr("y1", 0).attr("y2", 3.2).attr("stroke", stroke).attr("stroke-width", 0.9);
	};
	hatch("hatchRed", "#d42626", "#5e0c0c", 45);
	hatch("hatchBlue", "#2424e6", "#0b0b55", -45);

	creepSamples.forEach((s, i) => {
		g.append("rect").attr("x", x0(s)).attr("y", yHi(creepStrain[i])).attr("width", x1.bandwidth())
			.attr("height", yLo(0.1) - yHi(creepStrain[i])).attr("fill", "url(#hatchRed)").attr("stroke", "#000").attr("stroke-width", 1);
		g.append("rect").attr("x", x0(s) + x1("unrecovered")).attr("y", yLo(unrecoveredStrain[i])).attr("width", x1.bandwidth())
			.attr("height", yLo(0.1) - yLo(unrecoveredStrain[i])).attr("fill", "url(#hatchBlue)").attr("stroke", "#000").attr("stroke-width", 1);
	});
	g.append("rect").attr("x", 678).attr("y", 460.7).attr("width", 243).attr("height", 191.6).attr("fill", "none").attr("stroke", "#000").attr("stroke-width", 1.4);
	// axis break
	g.append("rect").attr("x", 674).attr("y", 554).attr("width", 252).attr("height", 4).attr("fill", "#fff");
	[678, 921].forEach(bx => {
		[553.5, 558.5].forEach(by => g.append("line").attr("x1", bx - 4).attr("x2", bx + 4).attr("y1", by + 2).attr("y2", by - 2).attr("stroke", "#000"));
	});
	const tickText = a => a.selectAll("text").attr("font-size", 12.5).attr("font-weight", "bold").attr("font-family", "'Liberation Sans', Arial, sans-serif");
	g.append("g").attr("transform", "translate(678,0)")
		.call(d3.axisLeft(yHi).tickValues([0.5, 0.75, 1.0]).tickSize(-5).tickPadding(5).tickFormat(d3.format(".2f")))
		.call(a => a.select(".domain").remove()).call(tickText);
	g.append("g").attr("transform", "translate(678,0)")
		.call(d3.axisLeft(yHi).tickValues([0.375, 0.625, 0.875]).tickSize(-3).tickFormat(""))
		.call(a => a.select(".domain").remove());
	g.append("g").attr("transform", "translate(678,0)")
		.call(d3.axisLeft(yLo).tickValues([0.1, 0.15, 0.2]).tickSize(-5).tickPadding(5).tickFormat(d3.format(".2f")))
		.call(a => a.select(".domain").remove()).call(tickText);
	g.append("g").attr("transform", "translate(678,0)")
		.call(d3.axisLeft(yLo).tickValues([0.125, 0.175, 0.225]).tickSize(-3).tickFormat(""))
		.call(a => a.select(".domain").remove());
	creepSamples.forEach(s => g.append("text").attr("x", x0(s) + x0.bandwidth() / 2).attr("y", 670)
		.attr("text-anchor", "middle").attr("font-size", 12.5).text(s));
	g.append("text").attr("transform", "translate(638,560) rotate(-90)").attr("text-anchor", "middle").attr("font-size", 15.5).text("Strain [%]");

	// legend
	[["Creep Strain", "url(#hatchRed)"], ["Unrecovered strain", "url(#hatchBlue)"]].forEach((l, i) => {
		const ly = 472 + i * 13;
		g.append("rect").attr("x", 782).attr("y", ly - 4.5).attr("width", 20).attr("height", 9).attr("fill", l[1]).attr("stroke", "#000").attr("stroke-width", 0.8);
		g.append("text").attr("x", 805).attr("y", ly + 4.5).attr("font-size", 12).text(l[0]);
	});
	panelLetter("(e)", 619, 463);
}

panelA();
panelB1();
panelB2();
panelC();
panelD();
panelE();
</script>
</body>
</html>
